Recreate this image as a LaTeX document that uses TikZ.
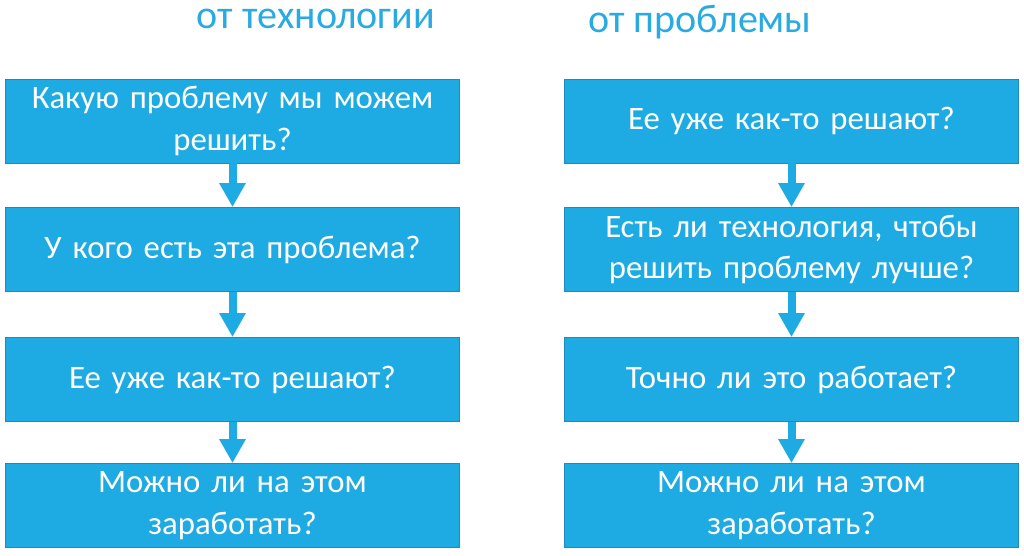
\documentclass[tikz,border=0pt]{standalone}
\usepackage{fontspec}
\setmainfont{Carlito}
\usetikzlibrary{arrows.meta}
\definecolor{boxblue}{RGB}{30,170,226}
\definecolor{boxedge}{RGB}{28,140,190}
\definecolor{headblue}{RGB}{41,171,226}

\begin{document}
\begin{tikzpicture}[x=0.25mm, y=-0.25mm,
my box/.style = {draw=boxedge, fill=boxblue, line width=0.6pt,
                 minimum width=113.5mm, minimum height=21mm,
                 text width=110mm, align=center, text=white,
                 font=\fontsize{23.3}{29.5}\selectfont},
my head/.style = {text=headblue, anchor=base, inner sep=0pt,
                  font=\fontsize{28.5}{32}\selectfont},
my arrow/.style = {draw=boxblue, line width=2mm,
                   -{Triangle[width=6.25mm, length=6mm]}}
                   ]
\useasboundingbox (0,0) rectangle (1024,555);
\node[my head] (h1) at (316,28) {от технологии};
\node[my head] (h2) at (700,32) {от проблемы};
% left column
\node[my box] (l1) at (232.5,121)   {Какую проблему мы можем\\ решить?};
\node[my box] (l2) at (232.5,249.5) {У кого есть эта проблема?};
\node[my box] (l3) at (232.5,379.5) {Ее уже как-то решают?};
\node[my box] (l4) at (232.5,505.5) {Можно ли на этом\\ заработать?};
% right column
\node[my box] (r1) at (791.5,121)   {Ее уже как-то решают?};
\node[my box] (r2) at (791.5,249.5) {Есть ли технология, чтобы\\ решить проблему лучше?};
\node[my box] (r3) at (791.5,379.5) {Точно ли это работает?};
\node[my box] (r4) at (791.5,505.5) {Можно ли на этом\\ заработать?};
\foreach \a/\b in {l1/l2, l2/l3, l3/l4, r1/r2, r2/r3, r3/r4}
    \draw[my arrow] (\a) -- (\b);
\end{tikzpicture}
\end{document}
